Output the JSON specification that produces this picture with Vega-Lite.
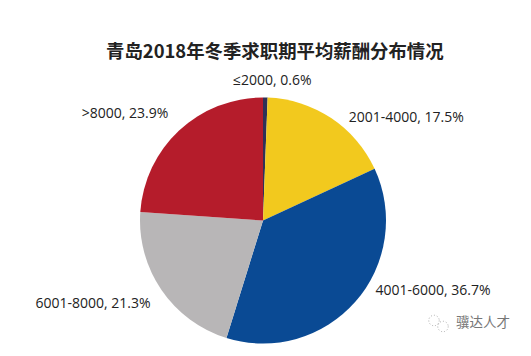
{"$schema":"https://vega.github.io/schema/vega-lite/v6.json","width":526,"height":271,"autosize":{"type":"none"},"padding":{"left":0,"top":85,"right":5,"bottom":0},"background":"white","view":{"stroke":null},
"title":{"text":"青岛2018年冬季求职期平均薪酬分布情况","anchor":"start","offset":0,"dx":106,"dy":-12,"fontSize":18.4,"font":"Noto Sans CJK SC","fontWeight":"bold","color":"#222222"},
"data":{"values":[{"cat":"≤2000","v":0.6,"o":1,"label":"≤2000, 0.6%"},{"cat":"2001-4000","v":17.5,"o":2,"label":"2001-4000, 17.5%"},{"cat":"4001-6000","v":36.7,"o":3,"label":"4001-6000, 36.7%"},{"cat":"6001-8000","v":21.3,"o":4,"label":"6001-8000, 21.3%"},{"cat":">8000","v":23.9,"o":5,"label":">8000, 23.9%"}]},
"encoding":{"theta":{"field":"v","type":"quantitative","stack":true},"order":{"field":"o","type":"ordinal"}},
"layer":[
{"mark":{"type":"arc","outerRadius":123},"encoding":{"color":{"field":"cat","type":"nominal","sort":null,"legend":null,"scale":{"domain":["≤2000","2001-4000","4001-6000","6001-8000",">8000"],"range":["#2f3157","#f2c91e","#0a4a94","#b8b6b7","#b51c2b"]}}}},
{"mark":{"type":"text","radius":123,"dx":7,"dy":-17,"font":"Open Sans","fontSize":14,"color":"#222222"},"encoding":{"text":{"field":"label"},"opacity":{"condition":{"test":"datum.o==1","value":1},"value":0}}},
{"mark":{"type":"text","radius":123,"dx":75,"dy":0,"font":"Open Sans","fontSize":14,"color":"#222222"},"encoding":{"text":{"field":"label"},"opacity":{"condition":{"test":"datum.o==2","value":1},"value":0}}},
{"mark":{"type":"text","radius":123,"dx":77.5,"dy":-11,"font":"Open Sans","fontSize":14,"color":"#222222"},"encoding":{"text":{"field":"label"},"opacity":{"condition":{"test":"datum.o==3","value":1},"value":0}}},
{"mark":{"type":"text","radius":123,"dx":-68.5,"dy":14.5,"font":"Open Sans","fontSize":14,"color":"#222222"},"encoding":{"text":{"field":"label"},"opacity":{"condition":{"test":"datum.o==4","value":1},"value":0}}},
{"mark":{"type":"text","radius":123,"dx":-54,"dy":-17,"font":"Open Sans","fontSize":14,"color":"#222222"},"encoding":{"text":{"field":"label"},"opacity":{"condition":{"test":"datum.o==5","value":1},"value":0}}},
{"transform":[{"filter":"datum.o==1"}],"mark":{"type":"text","dx":220,"dy":102,"text":"骥达人才","font":"Noto Sans CJK SC","fontSize":13.5,"color":"#777777"},"encoding":{"theta":null,"order":null}},
{"transform":[{"filter":"datum.o==1"}],"mark":{"type":"point","xOffset":171,"yOffset":100,"size":110,"filled":false,"stroke":"#888888","strokeWidth":1,"strokeDash":[1,2]},"encoding":{"theta":null,"order":null}},
{"transform":[{"filter":"datum.o==1"}],"mark":{"type":"point","xOffset":180,"yOffset":106,"size":110,"filled":false,"stroke":"#888888","strokeWidth":1,"strokeDash":[1,2]},"encoding":{"theta":null,"order":null}}
]}
